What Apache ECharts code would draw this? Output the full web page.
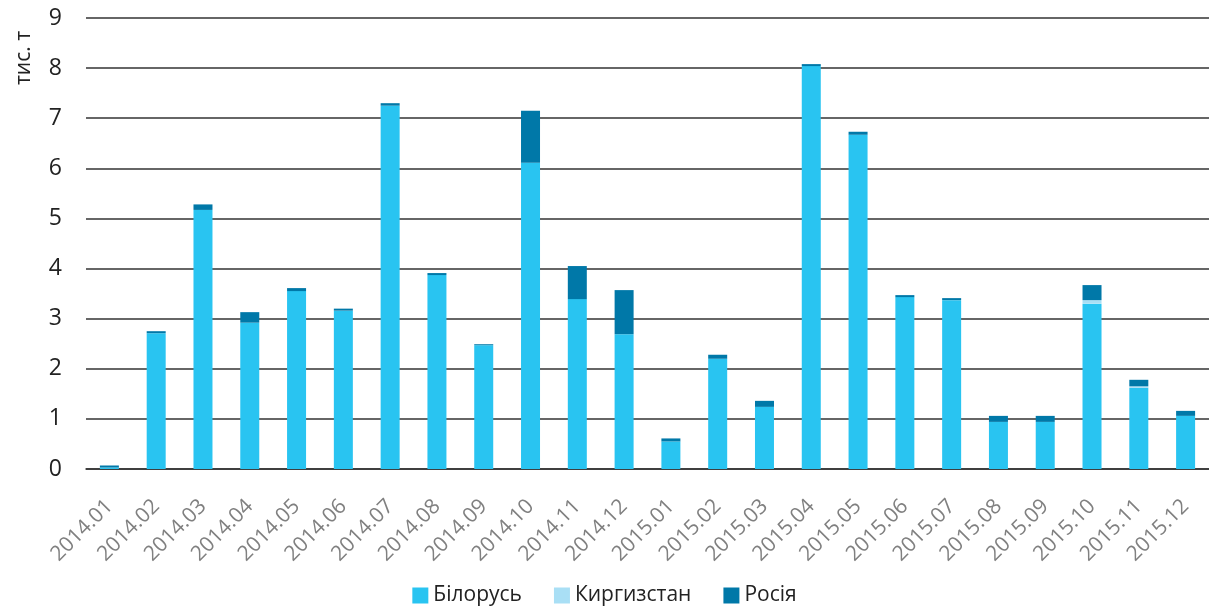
<!DOCTYPE html>
<html>
<head>
<meta charset="utf-8">
<script src="https://cdn.jsdelivr.net/npm/echarts@6/dist/echarts.min.js"></script>
<style>
  html, body { margin: 0; padding: 0; background: #fff; }
  #chart { width: 1209px; height: 607px; }
</style>
</head>
<body>
<div id="chart"></div>
<script>
var months = ['2014.01','2014.02','2014.03','2014.04','2014.05','2014.06','2014.07','2014.08','2014.09','2014.10','2014.11','2014.12',
              '2015.01','2015.02','2015.03','2015.04','2015.05','2015.06','2015.07','2015.08','2015.09','2015.10','2015.11','2015.12'];
var belarus = [0.03, 2.71, 5.17, 2.92, 3.55, 3.16, 7.25, 3.87, 2.47, 6.11, 3.39, 2.69,
               0.55, 2.20, 1.24, 8.04, 6.67, 3.43, 3.37, 0.94, 0.94, 3.30, 1.62, 1.06];
var kyrgyzstan = [0, 0, 0, 0, 0, 0, 0, 0, 0, 0, 0, 0,
                  0, 0, 0, 0, 0, 0, 0, 0, 0, 0.07, 0.03, 0];
var russia = [0.04, 0.04, 0.11, 0.21, 0.06, 0.04, 0.05, 0.04, 0.02, 1.04, 0.66, 0.88,
              0.06, 0.08, 0.12, 0.04, 0.06, 0.04, 0.04, 0.12, 0.12, 0.30, 0.13, 0.10];

var font = 'Open Sans, Noto Sans, sans-serif';
var myChart = echarts.init(document.getElementById('chart'));
var option = {
    animation: false,
    textStyle: { fontFamily: font },
    grid: { left: 86, right: 0, top: 18, bottom: 138 },
    legend: {
        bottom: -4,
        left: 'center',
        itemWidth: 16,
        itemHeight: 16,
        itemGap: 32,
        icon: 'rect',
        textStyle: { fontSize: 21, color: '#222', fontFamily: font },
        data: ['Білорусь', 'Киргизстан', 'Росія']
    },
    graphic: [{
        type: 'text',
        x: 24,
        y: 58,
        rotation: Math.PI / 2,
        style: {
            text: 'тис. т',
            fontSize: 21,
            fontFamily: font,
            fill: '#222',
            align: 'center',
            verticalAlign: 'middle'
        }
    }],
    xAxis: {
        type: 'category',
        data: months,
        axisLine: { lineStyle: { color: '#333', width: 1.5 } },
        axisTick: { show: false },
        axisLabel: { rotate: 45, color: '#808080', fontSize: 21, margin: 34, interval: 0 }
    },
    yAxis: {
        type: 'value',
        min: 0,
        max: 9,
        interval: 1,
        axisLine: { show: false },
        axisTick: { show: false },
        axisLabel: { color: '#222', fontSize: 23, margin: 24 },
        splitLine: { lineStyle: { color: '#333', width: 1.5 } }
    },
    series: [
        { name: 'Білорусь', type: 'bar', stack: 'total', barWidth: 19, data: belarus,
          itemStyle: { color: '#29c4f1' } },
        { name: 'Киргизстан', type: 'bar', stack: 'total', barWidth: 19, data: kyrgyzstan,
          itemStyle: { color: '#a9dff5' } },
        { name: 'Росія', type: 'bar', stack: 'total', barWidth: 19, data: russia,
          itemStyle: { color: '#0078a8' } }
    ]
};
myChart.setOption(option);
</script>
</body>
</html>
